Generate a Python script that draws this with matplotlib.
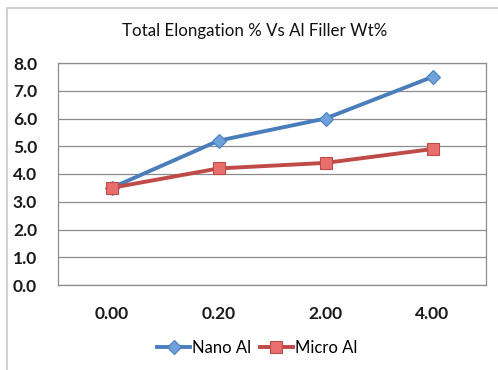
import matplotlib
matplotlib.use("Agg")
import matplotlib.pyplot as plt
from matplotlib.patches import Rectangle

plt.rcParams['font.family'] = ['Lato', 'DejaVu Sans']

categories = ["0.00", "0.20", "2.00", "4.00"]
nano_al = [3.5, 5.2, 6.0, 7.5]
micro_al = [3.5, 4.2, 4.4, 4.9]
y_ticks = [0.0, 1.0, 2.0, 3.0, 4.0, 5.0, 6.0, 7.0, 8.0]

W, H = 498, 370
fig = plt.figure(figsize=(W / 100, H / 100), dpi=100)

# chart border (runs off the right and bottom edge)
fig.patches.append(Rectangle((7 / W, -0.1), 1.2, 1 - 7.5 / H + 0.1,
                             transform=fig.transFigure, fill=False,
                             edgecolor='#c8c8c8', linewidth=1.2))

ax = fig.add_axes([58 / W, 1 - 285 / H, 428 / W, 222 / H])
x = range(len(categories))

ax.plot(x, nano_al, color='#4a7ebb', linewidth=2.8, marker='D', markersize=7,
        markerfacecolor='#6fa1dc', markeredgecolor='#4a7ebb', markeredgewidth=0.8,
        label='Nano Al', zorder=3)
ax.plot(x, micro_al, color='#be4b48', linewidth=2.8, marker='s', markersize=9,
        markerfacecolor='#e8706c', markeredgecolor='#be4b48', markeredgewidth=0.8,
        label='Micro Al', zorder=3)

ax.set_xlim(-0.5, len(categories) - 0.5)
ax.set_ylim(0, 8)
ax.set_yticks(y_ticks)
ax.set_yticklabels(['%.1f' % v for v in y_ticks], fontsize=12.5, fontweight='bold')
ax.set_xticks(list(x))
ax.set_xticklabels(categories, fontsize=12.5, fontweight='bold')
ax.tick_params(length=0, colors='#1a1a1a')
ax.tick_params(axis='y', pad=15)
ax.tick_params(axis='x', pad=15)
ax.grid(axis='y', color='#8c8c8c', linewidth=0.9)
ax.set_axisbelow(True)
for s in ax.spines.values():
    s.set_color('#8c8c8c')
    s.set_linewidth(0.9)

fig.text(255 / W, 1 - 31 / H, 'Total Elongation % Vs Al Filler Wt%',
         ha='center', va='center', fontsize=12.2, color='#111111')

fig.legend(loc='center', bbox_to_anchor=(257 / W, 1 - 348 / H), ncol=2,
           frameon=False, fontsize=12, handlelength=2.0, handletextpad=0.1,
           columnspacing=0.5)

fig.savefig('out.png', dpi=100)
